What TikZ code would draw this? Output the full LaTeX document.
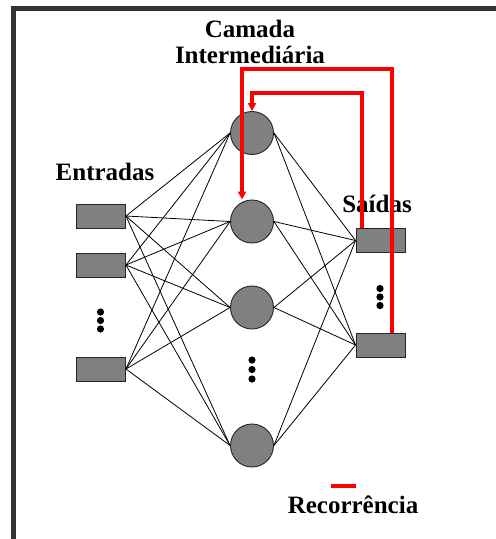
\documentclass[tikz,border=0pt]{standalone}
\usepackage{fontspec}
\setmainfont{Liberation Serif}
\usetikzlibrary{arrows.meta}
\definecolor{moldura}{RGB}{51,51,56}
\definecolor{cinza}{RGB}{128,128,128}

\begin{document}
\begin{tikzpicture}[x=1pt,y=-1pt,
  caixa/.style={draw=black!85,fill=cinza,minimum width=49pt,minimum height=24pt,inner sep=0pt,line width=0.9pt},
  neuronio/.style={circle,draw=black!85,fill=cinza,minimum size=43pt,inner sep=0pt,line width=0.9pt},
  rotulo/.style={anchor=base,font=\bfseries\fontsize{25}{30}\selectfont},
  ligacao/.style={line width=0.8pt},
  recorrencia/.style={red,line width=3.2pt,line join=miter},
  ponto/.style={fill=black}]
\useasboundingbox (0,0) rectangle (496,539);
\draw[moldura,line width=5.5pt] (13.5,539) -- (13.5,8.5) -- (496,8.5);

\path (250,37) node[rotulo](Camada){Camada} (250,63) node[rotulo](Intermediaria){Intermediária} (105,180) node[rotulo](Entradas){Entradas} (377,212) node[rotulo](Saidas){Saídas} (353,513) node[rotulo](Recorrencia){Recorrência};

\path (101,216) node[caixa](Entrada1){} (101,265) node[caixa](Entrada2){} (101,369) node[caixa](Entrada3){} (252,133) node[neuronio](Camada1){} (252,221.5) node[neuronio](Camada2){} (252,307.5) node[neuronio](Camada3){} (252,445.5) node[neuronio](Camada4){} (380.5,240.5) node[caixa](Saida1){} (380.5,345) node[caixa](Saida2){};

\draw[ligacao] (Entrada1.east) -- (Camada1.west);
\draw[ligacao] (Entrada1.east) -- (Camada2.west);
\draw[ligacao] (Entrada1.east) -- (Camada3.west);
\draw[ligacao] (Entrada1.east) -- (Camada4.west);
\draw[ligacao] (Entrada2.east) -- (Camada1.west);
\draw[ligacao] (Entrada2.east) -- (Camada2.west);
\draw[ligacao] (Entrada2.east) -- (Camada3.west);
\draw[ligacao] (Entrada2.east) -- (Camada4.west);
\draw[ligacao] (Entrada3.east) -- (Camada1.west);
\draw[ligacao] (Entrada3.east) -- (Camada2.west);
\draw[ligacao] (Entrada3.east) -- (Camada3.west);
\draw[ligacao] (Entrada3.east) -- (Camada4.west);
\draw[ligacao] (Camada1.east) -- (Saida1.west);
\draw[ligacao] (Camada1.east) -- (Saida2.west);
\draw[ligacao] (Camada2.east) -- (Saida1.west);
\draw[ligacao] (Camada2.east) -- (Saida2.west);
\draw[ligacao] (Camada3.east) -- (Saida1.west);
\draw[ligacao] (Camada3.east) -- (Saida2.west);
\draw[ligacao] (Camada4.east) -- (Saida1.west);
\draw[ligacao] (Camada4.east) -- (Saida2.west);

% reticencias
\fill[ponto] (100.5,312) circle (3.6) (100.5,320.5) circle (3.6) (100.5,329) circle (3.6);
\fill[ponto] (252,360) circle (3.6) (252,369.5) circle (3.6) (252,379) circle (3.6);
\fill[ponto] (380,288.5) circle (3.6) (380,297) circle (3.6) (380,305.5) circle (3.6);

% recorrencia
\coordinate (VoltaA) at (242,69);
\coordinate (VoltaB) at (252,93);
\draw[recorrencia,-{Triangle[length=8pt,width=8pt]}] ([xshift=11.5pt]Saida2.north) |- (VoltaA) -- (VoltaA |- Camada2.north);
\draw[recorrencia,-{Triangle[length=8pt,width=8pt]}] ([xshift=-18.5pt]Saida1.north) |- (VoltaB) -- (Camada1.north);
\draw[recorrencia] (331,486) -- (356,486);
\end{tikzpicture}
\end{document}
